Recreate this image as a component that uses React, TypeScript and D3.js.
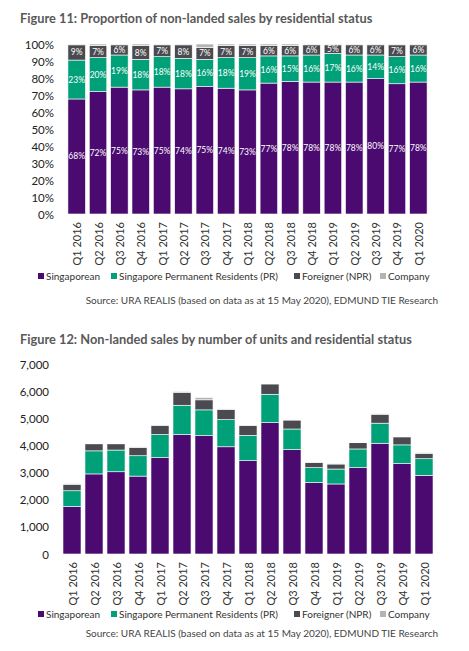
import * as d3 from 'd3'

const quarters = [
  'Q1 2016', 'Q2 2016', 'Q3 2016', 'Q4 2016',
  'Q1 2017', 'Q2 2017', 'Q3 2017', 'Q4 2017',
  'Q1 2018', 'Q2 2018', 'Q3 2018', 'Q4 2018',
  'Q1 2019', 'Q2 2019', 'Q3 2019', 'Q4 2019',
  'Q1 2020'
]

const seriesNames = ['Singaporean', 'Singapore Permanent Residents (PR)', 'Foreigner (NPR)', 'Company']
const seriesKeys = ['sg', 'pr', 'fr', 'co']
const colors = ['#4b0a6f', '#00a078', '#4a4a50', '#b4b4b4']

// figure 11: share of sales (%)
const pctSingaporean = [68, 72, 75, 73, 75, 74, 75, 74, 73, 77, 78, 78, 78, 78, 80, 77, 78]
const pctPR = [23, 20, 19, 18, 18, 18, 16, 18, 19, 16, 15, 16, 17, 16, 14, 16, 16]
const pctForeigner = [9, 7, 6, 8, 7, 8, 7, 7, 7, 6, 6, 6, 5, 6, 6, 7, 6]
const pctCompany = [0.5, 1, 0.5, 1, 0.5, 0.5, 2, 1, 1, 1, 1, 0.5, 0.5, 0.5, 0.5, 0.5, 0.5]

// figure 12: units sold
const unitsSingaporean = [1750, 2950, 3030, 2870, 3550, 4400, 4360, 3950, 3440, 4840, 3845, 2630, 2580, 3180, 4080, 3330, 2900]
const unitsPR = [580, 850, 800, 750, 850, 1080, 950, 1000, 930, 1045, 760, 550, 550, 690, 740, 690, 610]
const unitsForeigner = [240, 260, 230, 310, 340, 480, 370, 380, 360, 380, 330, 185, 185, 230, 330, 295, 200]
const unitsCompany = [20, 20, 15, 15, 15, 30, 85, 15, 15, 15, 15, 10, 10, 10, 15, 15, 25]

const pctTicks = [0, 0.1, 0.2, 0.3, 0.4, 0.5, 0.6, 0.7, 0.8, 0.9, 1]
const unitTicks = [0, 1000, 2000, 3000, 4000, 5000, 6000, 7000]

const FONT = 'Lato, "Open Sans", sans-serif'

type Row = { q: string; sg: number; pr: number; fr: number; co: number }

function buildRows(a: number[], b: number[], c: number[], d: number[]): Row[] {
  return quarters.map((q, i) => ({ q, sg: a[i], pr: b[i], fr: c[i], co: d[i] }))
}

function Legend({ y }: { y: number }) {
  const xs = [38, 111, 294, 380]
  return (
    <g fontFamily={FONT} fontSize={10} fill="#333">
      {seriesNames.map((name, i) => (
        <g key={name} transform={`translate(${xs[i]},${y})`}>
          <rect x={0} y={-3} width={6} height={6} fill={colors[i]} />
          <text x={8} y={0} dominantBaseline="central">{name}</text>
        </g>
      ))}
    </g>
  )
}

function Source({ y }: { y: number }) {
  return (
    <text x={438} y={y} textAnchor="end" dominantBaseline="central" fontFamily={FONT} fontSize={10} fill="#444">
      Source: URA REALIS (based on data as at 15 May 2020), EDMUND TIE Research
    </text>
  )
}

function ProportionChart() {
  const rows = buildRows(pctSingaporean, pctPR, pctForeigner, pctCompany)
  const labels = [pctSingaporean, pctPR, pctForeigner]
  const x = d3.scaleBand().domain(quarters).range([66, 429]).paddingInner(0.18).paddingOuter(0.09)
  const y = d3.scaleLinear().domain([0, 1]).range([214, 44])
  const stack = d3.stack<Row>().keys(seriesKeys).offset(d3.stackOffsetExpand)
  const layers = stack(rows)

  return (
    <g>
      <text x={20} y={18} dominantBaseline="central" fontFamily={FONT} fontWeight="bold" fontSize={12.8} fill="#595959">
        Figure 11: Proportion of non-landed sales by residential status
      </text>
      <g fontFamily={FONT} fontSize={11.5} fill="#222" textAnchor="end">
        {pctTicks.map((t) => (
          <text key={t} x={54} y={y(t)} dominantBaseline="central">{d3.format('.0%')(t)}</text>
        ))}
      </g>
      {layers.map((layer, li) => (
        <g key={layer.key} fill={colors[li]}>
          {layer.map((d, i) => (
            <rect
              key={quarters[i]}
              x={x(quarters[i])}
              y={y(d[1])}
              width={x.bandwidth()}
              height={Math.max(0, y(d[0]) - y(d[1]))}
              stroke="#fff"
              strokeWidth={0.6}
            />
          ))}
        </g>
      ))}
      {layers.slice(0, 3).map((layer, li) => (
        <g key={'l' + layer.key} fontFamily={FONT} fontSize={8.5} fill="#fff" textAnchor="middle">
          {layer.map((d, i) => (
            <text
              key={quarters[i]}
              x={(x(quarters[i]) ?? 0) + x.bandwidth() / 2}
              y={y((d[0] + d[1]) / 2)}
              dominantBaseline="central"
            >
              {labels[li][i]}%
            </text>
          ))}
        </g>
      ))}
      <g fontFamily={FONT} fontSize={11} fill="#333">
        {quarters.map((q) => (
          <text
            key={q}
            transform={`translate(${(x(q) ?? 0) + x.bandwidth() / 2},222) rotate(-90)`}
            textAnchor="end"
            dominantBaseline="central"
          >
            {q}
          </text>
        ))}
      </g>
      <Legend y={276} />
      <Source y={300} />
    </g>
  )
}

function UnitsChart() {
  const rows = buildRows(unitsSingaporean, unitsPR, unitsForeigner, unitsCompany)
  const x = d3.scaleBand().domain(quarters).range([61, 435]).paddingInner(0.18).paddingOuter(0.09)
  const y = d3.scaleLinear().domain([0, 7000]).range([554, 364])
  const layers = d3.stack<Row>().keys(seriesKeys)(rows)

  return (
    <g>
      <text x={20} y={339} dominantBaseline="central" fontFamily={FONT} fontWeight="bold" fontSize={12.8} fill="#595959">
        Figure 12: Non-landed sales by number of units and residential status
      </text>
      <g fontFamily={FONT} fontSize={11.5} fill="#222" textAnchor="end">
        {unitTicks.map((t) => (
          <text key={t} x={49} y={y(t)} dominantBaseline="central">{d3.format(',')(t)}</text>
        ))}
      </g>
      {layers.map((layer, li) => (
        <g key={layer.key} fill={colors[li]}>
          {layer.map((d, i) => (
            <rect
              key={quarters[i]}
              x={x(quarters[i])}
              y={y(d[1])}
              width={x.bandwidth()}
              height={Math.max(0, y(d[0]) - y(d[1]))}
              stroke="#fff"
              strokeWidth={0.6}
            />
          ))}
        </g>
      ))}
      <g fontFamily={FONT} fontSize={11} fill="#333">
        {quarters.map((q) => (
          <text
            key={q}
            transform={`translate(${(x(q) ?? 0) + x.bandwidth() / 2},562) rotate(-90)`}
            textAnchor="end"
            dominantBaseline="central"
          >
            {q}
          </text>
        ))}
      </g>
      <Legend y={614} />
      <Source y={633} />
    </g>
  )
}

export default function App() {
  return (
    <div style={{ position: 'absolute', left: 0, top: 0 }}>
      <svg width={469} height={651} style={{ display: 'block', background: '#fff' }}>
        <ProportionChart />
        <UnitsChart />
      </svg>
    </div>
  )
}
